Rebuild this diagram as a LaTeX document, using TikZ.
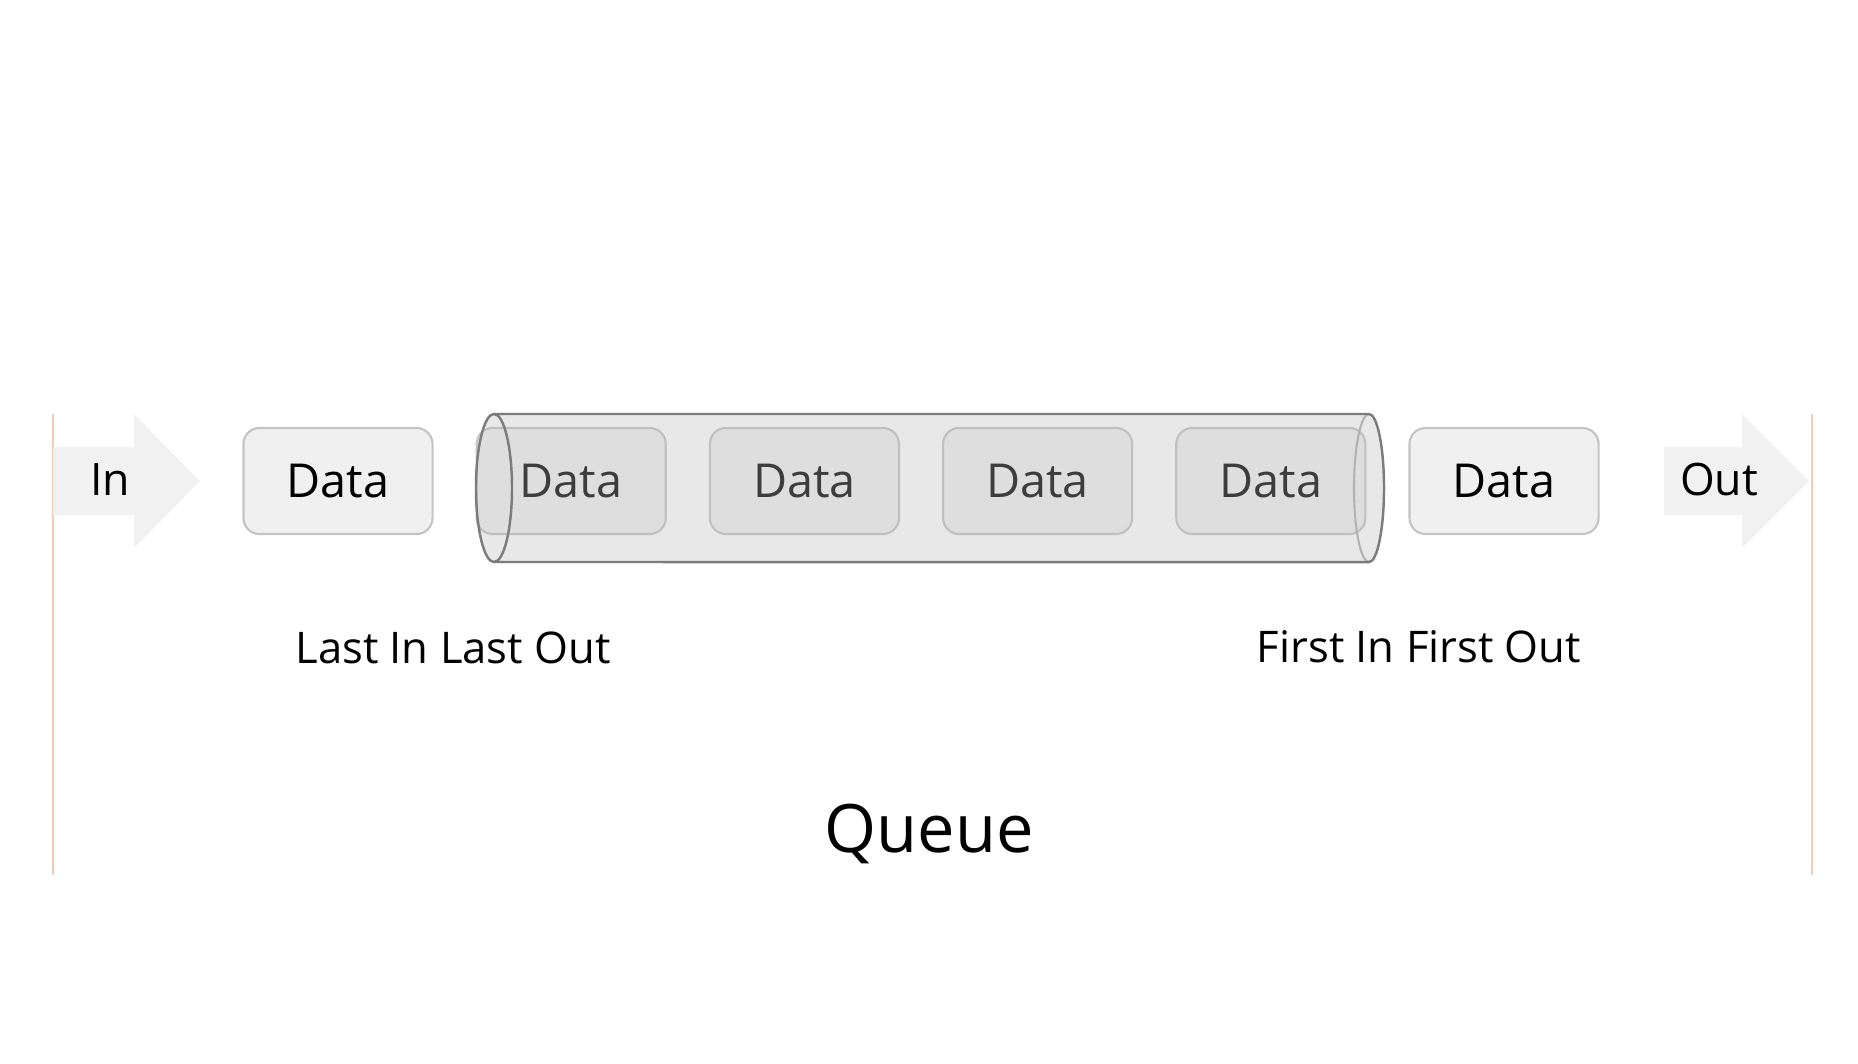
\documentclass[tikz,border=0pt]{standalone}
\usepackage{fontspec}
\setmainfont{Open Sans}
\usepackage{tikz}
\usetikzlibrary{positioning,calc}

\definecolor{boxfill}{HTML}{F0F0F0}
\definecolor{boxline}{HTML}{C4C4C4}
\definecolor{arrowfill}{HTML}{F1F1F1}
\definecolor{tubeline}{HTML}{7C7C7C}
\definecolor{tubeinner}{HTML}{B2B2B2}
\definecolor{tubefill}{HTML}{BABABA}
\definecolor{siderule}{HTML}{F2CCB6}

\tikzset{
  databox/.style={draw=boxline, line width=0.6pt, fill=boxfill, rounded corners=0.16cm,
    minimum width=1.89cm, minimum height=1.06cm, inner sep=0pt, font=\fontsize{13.3}{15}\selectfont},
  arrowtext/.style={anchor=base, inner sep=0pt, font=\fontsize{12.7}{15}\selectfont},
  captext/.style={anchor=base, inner sep=0pt, font=\fontsize{12.4}{15}\selectfont},
  arrowshape/.style={fill=arrowfill},
}

\begin{document}
\begin{tikzpicture}[x=0.01cm, y=-0.01cm]
    \useasboundingbox (0,0) rectangle (1858,1064);

    \draw[siderule, line width=0.6pt] (53,414) -- (53,875);
    \draw[siderule, line width=0.6pt] (1812,414) -- (1812,875);

    % in and out arrows
    \fill[arrowshape] (53,447) -- (134,447) -- (134,414) -- (200,481) -- (134,548) -- (134,515) -- (53,515) -- cycle;
    \fill[arrowshape] (1664,447) -- (1742,447) -- (1742,414) -- (1809,481) -- (1742,548) -- (1742,515) -- (1664,515) -- cycle;
    \node[arrowtext] (in) at (110,495) {In};
    \node[arrowtext] (out) at (1719,495) {Out};

    \foreach \i in {1,...,6}
        \node[databox] (d\i) at ({338+233.2*(\i-1)},481) {Data};

    % the tube
    \coordinate (tubeL) at (494,488);
    \coordinate (tubeR) at (1369,488);
    \fill[tubefill, fill opacity=0.33] (494,414) -- (1369,414)
        arc[start angle=90, end angle=-90, x radius=0.15cm, y radius=0.74cm]
        -- (494,562) arc[start angle=270, end angle=90, x radius=0.18cm, y radius=0.74cm] -- cycle;
    \draw[tubeinner, line width=0.6pt] (1369,414) arc[start angle=90, end angle=270, x radius=0.15cm, y radius=0.74cm];
    \draw[tubeline, line width=0.7pt] (494,414) -- (1369,414)
        arc[start angle=90, end angle=-90, x radius=0.15cm, y radius=0.74cm] -- (494,562);
    \draw[tubeline, line width=0.7pt] (tubeL) ellipse [x radius=0.18cm, y radius=0.74cm];

    \node[captext] (lilo) at (453,663) {Last In Last Out};
    \node[captext] (fifo) at (1419,662) {First In First Out};
    \node[captext, font=\fontsize{19}{22}\selectfont] (title) at (929,852) {Queue};
\end{tikzpicture}
\end{document}
